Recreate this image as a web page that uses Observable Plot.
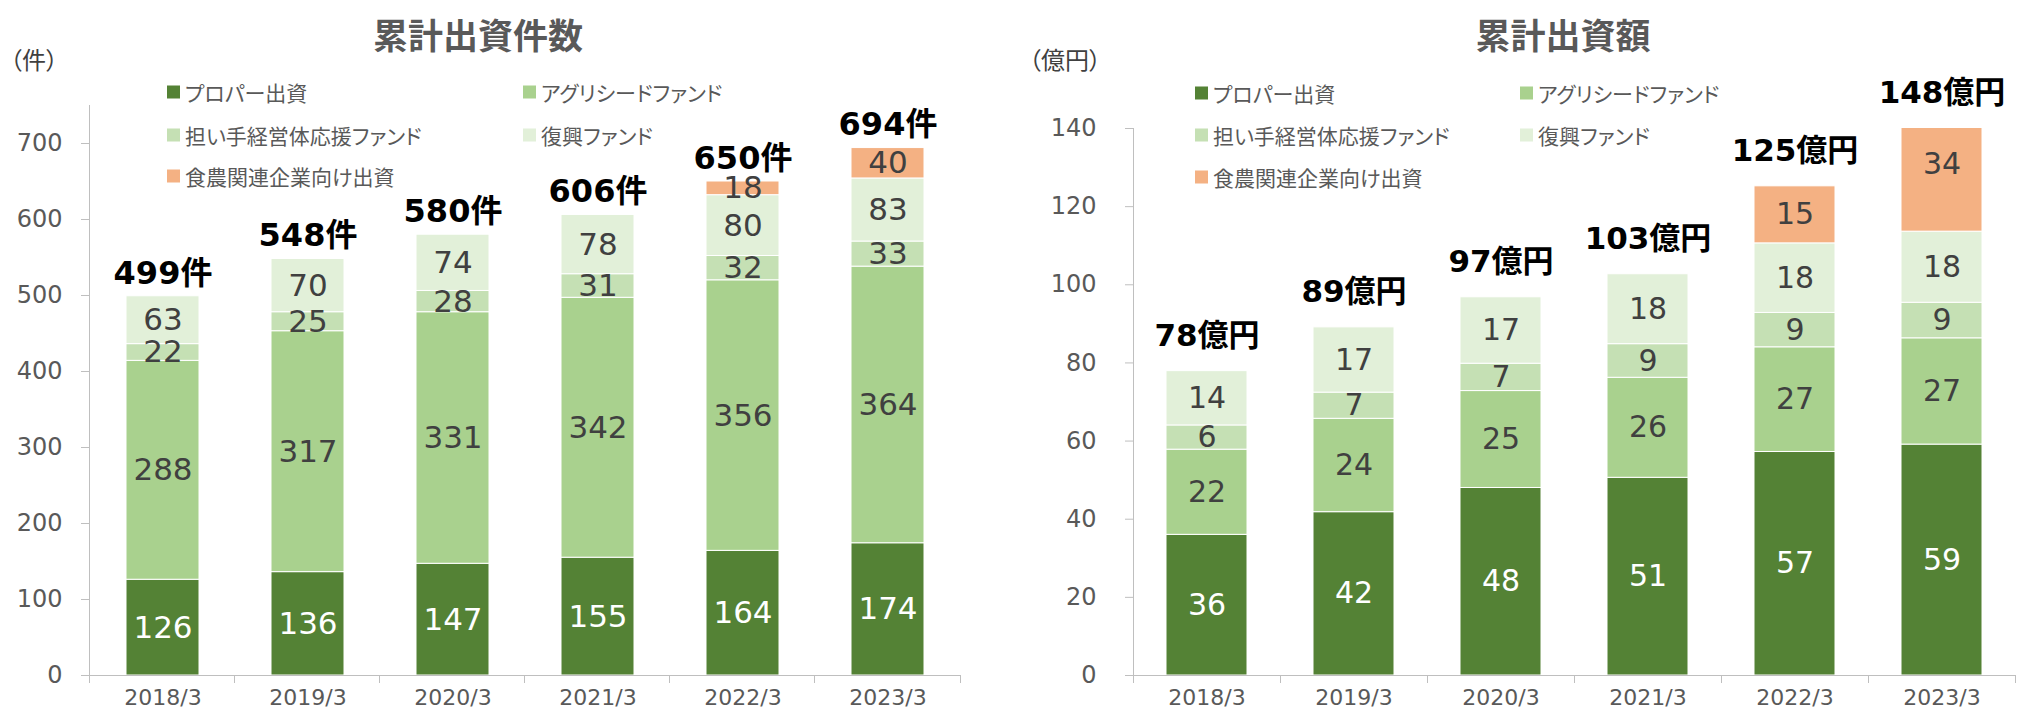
<!DOCTYPE html>
<html><head><meta charset="utf-8">
<script src="https://cdn.jsdelivr.net/npm/d3@7"></script>
<script src="https://cdn.jsdelivr.net/npm/@observablehq/plot@0.6"></script>
<style>
body{margin:0;background:#fff;}
#wrap{position:relative;width:2017px;height:715px;overflow:hidden;font-family:"Noto Sans CJK JP",sans-serif;}
.abs{position:absolute;white-space:nowrap;line-height:1;}
.title{font-size:35px;font-weight:bold;color:#595959;font-feature-settings:"palt";transform:translate(-50%,-50%);}
.unit{font-size:24px;color:#404040;font-feature-settings:"palt";transform:translateY(-50%);}
.leg{font-size:21px;color:#595959;font-feature-settings:"palt";display:flex;align-items:center;transform:translateY(-50%);}
.leg i{display:inline-block;width:13px;height:13px;margin-right:5px;}
.plot{position:absolute;top:0;}
</style></head>
<body><div id="wrap"></div>
<script>
// ---- shared categories ----
const years = ["2018/3","2019/3","2020/3","2021/3","2022/3","2023/3"];
const seriesNames = ["プロパー出資","アグリシードファンド","担い手経営体応援ファンド","復興ファンド","食農関連企業向け出資"];
const seriesColors = ["#548235","#A9D18E","#C5E0B4","#E2F0D9","#F4B183"];

// ---- 累計出資件数 (件) ----
const countProper   = [126,136,147,155,164,174];
const countAgri     = [288,317,331,342,356,364];
const countNinaite  = [22,25,28,31,32,33];
const countFukko    = [63,70,74,78,80,83];
const countShokuno  = [0,0,0,0,18,40];
const countTotalLabels = ["499件","548件","580件","606件","650件","694件"];
const countTicks = [0,100,200,300,400,500,600,700];
const countMax = 750;

// ---- 累計出資額 (億円) ----
const amountProper  = [36.0,41.8,48.0,50.6,57.2,59.1];
const amountAgri    = [21.8,23.9,24.8,25.6,26.8,27.2];
const amountNinaite = [6.2,6.7,7.0,8.6,8.8,9.1];
const amountFukko   = [13.9,16.7,17.0,17.9,17.8,18.2];
const amountShokuno = [0,0,0,0,14.6,34.2];
const amountTotalLabels = ["78億円","89億円","97億円","103億円","125億円","148億円"];
const amountTicks = [0,20,40,60,80,100,120,140];
const amountMax = 140;

const wrap = document.getElementById("wrap");

function addDiv(cls, html, left, top) {
  const d = document.createElement("div");
  d.className = "abs " + cls;
  d.innerHTML = html;
  d.style.left = left + "px";
  d.style.top = top + "px";
  wrap.appendChild(d);
}

function makeChart(cfg) {
  const rows = [];
  const totals = [];
  years.forEach((yr, i) => {
    let base = 0;
    cfg.values.forEach((arr, j) => {
      const v = arr[i];
      if (v > 0) rows.push({year: yr, series: seriesNames[j], value: v, label: String(Math.round(v)), mid: base + v / 2});
      base += v;
    });
    totals.push({year: yr, total: base, label: cfg.totalLabels[i]});
  });
  const svg = Plot.plot({
    width: cfg.width, height: 715,
    marginLeft: cfg.marginLeft, marginRight: cfg.marginRight,
    marginTop: cfg.marginTop, marginBottom: 40,
    style: {fontFamily: '"DejaVu Sans","Noto Sans CJK JP",sans-serif', background: "transparent", overflow: "visible"},
    x: {domain: years, paddingInner: cfg.pad, paddingOuter: cfg.pad / 2, label: null},
    y: {domain: [0, cfg.yMax], label: null},
    color: {domain: seriesNames, range: seriesColors},
    marks: [
      Plot.barY(rows, Plot.stackY({x: "year", y: "value", fill: "series", z: "series", stroke: "white", strokeWidth: 1, clip: true})),
      Plot.text(rows.filter(d => d.series === seriesNames[0]), {x: "year", y: "mid", text: "label", fill: "white", fontSize: cfg.segFont}),
      Plot.text(rows.filter(d => d.series !== seriesNames[0]), {x: "year", y: "mid", text: "label", fill: "#404040", fontSize: cfg.segFont}),
      Plot.text(totals, {x: "year", y: d => Math.min(d.total, cfg.yMax), text: "label", fill: "black", fontWeight: "bold", fontSize: cfg.totFont, dy: cfg.totDy}),
      Plot.axisY({ticks: cfg.ticks, tickSize: 8, tickPadding: cfg.tickPadding, fontSize: 24, stroke: "#BFBFBF", fill: "#595959"}),
      Plot.axisX({tickSize: 0, tickPadding: 14, fontSize: 22, fill: "#595959"}),
      Plot.ruleY([0], {stroke: "#BFBFBF"})
    ]
  });
  // axis line and category separators
  const sx = svg.scale("x"), sy = svg.scale("y");
  const [y0, y1] = sy.range;
  const xr = sx.range;
  const step = (xr[1] - xr[0]) / years.length;
  const g = d3.select(svg).append("g").attr("stroke", "#BFBFBF").attr("shape-rendering", "crispEdges");
  g.append("line").attr("x1", xr[0]).attr("x2", xr[0]).attr("y1", y0).attr("y2", y1);
  for (let i = 0; i <= years.length; i++) {
    const x = xr[0] + i * step;
    g.append("line").attr("x1", x).attr("x2", x).attr("y1", y0).attr("y2", y0 + 8);
  }
  svg.classList.add("plot");
  svg.style.left = cfg.left + "px";
  wrap.appendChild(svg);
}

makeChart({
  values: [countProper, countAgri, countNinaite, countFukko, countShokuno],
  totalLabels: countTotalLabels, ticks: countTicks, yMax: countMax,
  left: 0, width: 1000, marginLeft: 89, marginRight: 40, marginTop: 105,
  pad: 0.5, tickPadding: 19, segFont: 31, totFont: 32, totDy: -23
});
makeChart({
  values: [amountProper, amountAgri, amountNinaite, amountFukko, amountShokuno],
  totalLabels: amountTotalLabels, ticks: amountTicks, yMax: amountMax,
  left: 1000, width: 1017, marginLeft: 133, marginRight: 2, marginTop: 128,
  pad: 0.45, tickPadding: 29, segFont: 30, totFont: 31, totDy: -35
});

// titles and units
addDiv("title", "累計出資件数", 478, 33);
addDiv("title", "累計出資額", 1563, 33);
addDiv("unit", "（件）", 10, 59);
addDiv("unit", "（億円）", 1029, 59);

// legends
function legend(x1, x2, rowsY) {
  const pos = [[x1, rowsY[0]], [x2, rowsY[0]], [x1, rowsY[1]], [x2, rowsY[1]], [x1, rowsY[2]]];
  seriesNames.forEach((s, i) => {
    addDiv("leg", `<i style="background:${seriesColors[i]}"></i>${s}`, pos[i][0], pos[i][1]);
  });
}
legend(167, 523, [92, 135, 176]);
legend(1195, 1520, [93, 135, 177]);
</script>
</body></html>
